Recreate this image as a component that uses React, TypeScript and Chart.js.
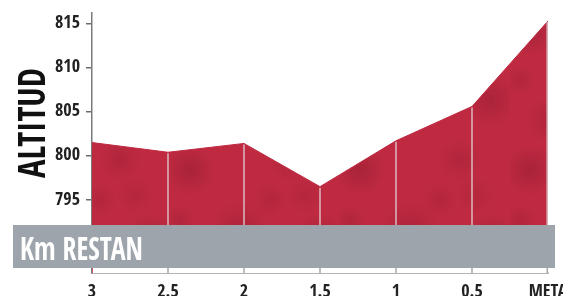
import React, { useEffect, useRef } from 'react';
import { Chart, registerables } from 'chart.js';

Chart.register(...registerables);

// ---- data ----
const kmLabels: string[] = ['3', '2.5', '2', '1.5', '1', '0.5', 'META'];
const altitude: number[] = [801.5, 800.4, 801.4, 796.5, 801.7, 805.6, 815.3];
const yTickValues: number[] = [795, 800, 805, 810, 815];
const yTitle = 'ALTITUD';
const bandLabel = 'Km RESTAN';

const FONT = '"Open Sans Condensed", "Roboto Condensed", sans-serif';
const FILL = '#bf2a41';

// fixed blotches for the mottled texture of the profile fill (style only)
const blotches: [number, number, number, number][] = [
  [20, 30, 26, 0.22], [70, 90, 30, 0.18], [120, 20, 22, 0.15], [150, 100, 28, 0.2],
  [40, 120, 24, 0.16], [100, 60, 18, 0.12], [10, 80, 16, 0.14], [135, 55, 20, 0.1],
];

function makeTexture(): CanvasPattern | string {
  const c = document.createElement('canvas');
  c.width = 170;
  c.height = 140;
  const g = c.getContext('2d');
  if (!g) return FILL;
  g.fillStyle = FILL;
  g.fillRect(0, 0, c.width, c.height);
  blotches.forEach(([x, y, r, a]) => {
    const grad = g.createRadialGradient(x, y, 0, x, y, r);
    grad.addColorStop(0, `rgba(90,10,25,${a})`);
    grad.addColorStop(1, 'rgba(90,10,25,0)');
    g.fillStyle = grad;
    g.fillRect(x - r, y - r, r * 2, r * 2);
  });
  const p = g.createPattern(c, 'repeat');
  return p || FILL;
}

function drawScaledText(
  ctx: CanvasRenderingContext2D,
  text: string,
  x: number,
  y: number,
  targetWidth: number
) {
  const w = ctx.measureText(text).width;
  const sx = targetWidth / w;
  ctx.save();
  ctx.translate(x, y);
  ctx.scale(sx, 1);
  ctx.fillText(text, 0, 0);
  ctx.restore();
}

const decorPlugin = {
  id: 'profileDecor',
  afterDatasetsDraw(chart: any) {
    const ctx: CanvasRenderingContext2D = chart.ctx;
    const area = chart.chartArea;
    const meta = chart.getDatasetMeta(0);
    const bandTop = 225;
    const bandBottom = 268;

    ctx.save();
    // light separators inside the profile
    ctx.strokeStyle = 'rgba(222,200,205,0.85)';
    ctx.lineWidth = 1.6;
    meta.data.forEach((pt: any, i: number) => {
      if (i === 0) return;
      const x = Math.min(pt.x, area.right - 0.8);
      ctx.beginPath();
      ctx.moveTo(x, pt.y + 1);
      ctx.lineTo(x, bandTop);
      ctx.stroke();
    });

    // white strip under the band
    ctx.fillStyle = '#ffffff';
    ctx.fillRect(area.left + 0.75, bandBottom, area.right - area.left, area.bottom - bandBottom);
    ctx.strokeStyle = '#a8a8a8';
    ctx.lineWidth = 1.5;
    meta.data.forEach((pt: any, i: number) => {
      if (i === 0) return;
      const x = Math.min(pt.x, area.right - 0.75);
      ctx.beginPath();
      ctx.moveTo(x, bandBottom);
      ctx.lineTo(x, area.bottom);
      ctx.stroke();
    });

    // grey band
    ctx.fillStyle = '#9ea4ab';
    ctx.fillRect(13, bandTop, 542, bandBottom - bandTop);

    // band label
    ctx.fillStyle = '#ffffff';
    ctx.font = `bold 32px ${FONT}`;
    ctx.textBaseline = 'alphabetic';
    ctx.textAlign = 'left';
    drawScaledText(ctx, bandLabel, 20, 260, 123);

    // vertical title
    ctx.save();
    ctx.translate(45, 178);
    ctx.rotate(-Math.PI / 2);
    ctx.fillStyle = '#111111';
    ctx.font = `bold 38px ${FONT}`;
    drawScaledText(ctx, yTitle, 0, 0, 110);
    ctx.restore();

    ctx.restore();
  },
};

export default function App() {
  const canvasRef = useRef<HTMLCanvasElement | null>(null);

  useEffect(() => {
    document.body.style.margin = '0';
    const canvas = canvasRef.current;
    if (!canvas) return;
    const texture = makeTexture();
    const chart = new Chart(canvas, {
      type: 'line',
      data: {
        labels: kmLabels,
        datasets: [
          {
            data: altitude,
            fill: 'start',
            backgroundColor: texture as any,
            borderColor: FILL,
            borderWidth: 1,
            pointRadius: 0,
            tension: 0,
          },
        ],
      },
      options: {
        responsive: false,
        maintainAspectRatio: false,
        animation: false,
        devicePixelRatio: 1,
        layout: { padding: { top: 13, right: 15, left: 0, bottom: 0 } },
        plugins: {
          legend: { display: false },
          tooltip: { enabled: false },
        },
        scales: {
          x: {
            type: 'category',
            offset: false,
            grid: { display: false, drawTicks: false },
            border: { display: true, color: '#6b6b6b', width: 1.5 },
            ticks: {
              color: '#222',
              padding: 8,
              maxRotation: 0,
              autoSkip: false,
              font: { family: FONT, size: 18, weight: 'bold' },
            },
            afterFit: (s: any) => {
              s.height = 23;
              s.paddingLeft = 0;
              s.paddingRight = 0;
            },
          },
          y: {
            type: 'linear',
            min: 786.7,
            max: 816.2,
            afterBuildTicks: (s: any) => {
              s.ticks = yTickValues.map((v) => ({ value: v }));
            },
            grid: {
              drawOnChartArea: false,
              drawTicks: true,
              tickLength: 6,
              color: '#6b6b6b',
              lineWidth: 1.5,
            },
            border: { display: true, color: '#7a7a7a', width: 1.5 },
            ticks: {
              color: '#222',
              padding: 6,
              font: { family: FONT, size: 18, weight: 'bold' },
            },
            afterFit: (s: any) => {
              s.width = 92;
              s.paddingTop = 0;
              s.paddingBottom = 0;
            },
          },
        },
      },
      plugins: [decorPlugin],
    });
    return () => chart.destroy();
  }, []);

  return (
    <div style={{ width: 563, height: 296 }}>
      <canvas ref={canvasRef} width={563} height={296} style={{ display: 'block' }} />
    </div>
  );
}
